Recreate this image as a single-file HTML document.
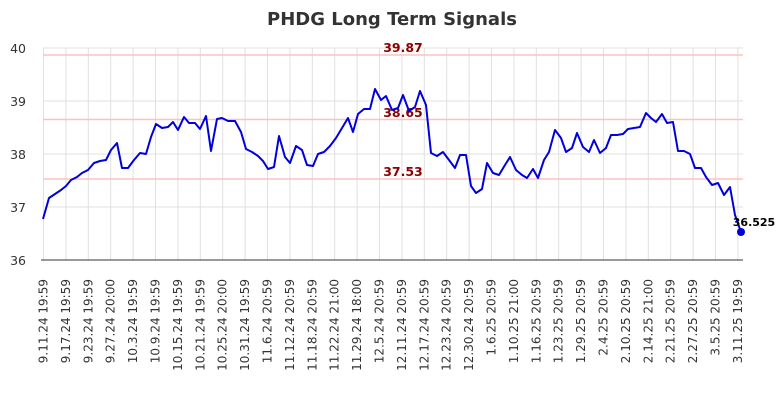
<!DOCTYPE html>
<html><head><meta charset="utf-8"><style>
body{margin:0;background:#fff;}
svg{display:block;font-family:"DejaVu Sans","Liberation Sans",sans-serif;}
</style></head><body>
<svg width="784" height="400" viewBox="0 0 784 400">
<text x="392" y="25" text-anchor="middle" font-size="18" font-weight="bold" fill="#333">PHDG Long Term Signals</text>
<g stroke="#e0e0e0" stroke-width="1">
<line x1="43" y1="48" x2="743" y2="48"/><line x1="43" y1="101" x2="743" y2="101"/><line x1="43" y1="154" x2="743" y2="154"/><line x1="43" y1="207" x2="743" y2="207"/>
<line x1="43.5" y1="48" x2="43.5" y2="260"/><line x1="65.9" y1="48" x2="65.9" y2="260"/><line x1="88.3" y1="48" x2="88.3" y2="260"/><line x1="110.7" y1="48" x2="110.7" y2="260"/><line x1="133.1" y1="48" x2="133.1" y2="260"/><line x1="155.5" y1="48" x2="155.5" y2="260"/><line x1="177.9" y1="48" x2="177.9" y2="260"/><line x1="200.3" y1="48" x2="200.3" y2="260"/><line x1="222.7" y1="48" x2="222.7" y2="260"/><line x1="245.1" y1="48" x2="245.1" y2="260"/><line x1="267.5" y1="48" x2="267.5" y2="260"/><line x1="289.9" y1="48" x2="289.9" y2="260"/><line x1="312.3" y1="48" x2="312.3" y2="260"/><line x1="334.7" y1="48" x2="334.7" y2="260"/><line x1="357.1" y1="48" x2="357.1" y2="260"/><line x1="379.5" y1="48" x2="379.5" y2="260"/><line x1="401.9" y1="48" x2="401.9" y2="260"/><line x1="424.3" y1="48" x2="424.3" y2="260"/><line x1="446.7" y1="48" x2="446.7" y2="260"/><line x1="469.1" y1="48" x2="469.1" y2="260"/><line x1="491.5" y1="48" x2="491.5" y2="260"/><line x1="513.9" y1="48" x2="513.9" y2="260"/><line x1="536.3" y1="48" x2="536.3" y2="260"/><line x1="558.7" y1="48" x2="558.7" y2="260"/><line x1="581.1" y1="48" x2="581.1" y2="260"/><line x1="603.5" y1="48" x2="603.5" y2="260"/><line x1="625.9" y1="48" x2="625.9" y2="260"/><line x1="648.3" y1="48" x2="648.3" y2="260"/><line x1="670.7" y1="48" x2="670.7" y2="260"/><line x1="693.1" y1="48" x2="693.1" y2="260"/><line x1="715.5" y1="48" x2="715.5" y2="260"/><line x1="737.9" y1="48" x2="737.9" y2="260"/>
</g>
<g stroke="#ffc0c0" stroke-width="1.5">
<line x1="43" y1="55" x2="743" y2="55"/><line x1="43" y1="119.5" x2="743" y2="119.5"/><line x1="43" y1="179" x2="743" y2="179"/>
</g>
<line x1="41" y1="260" x2="743" y2="260" stroke="#333" stroke-width="1"/>
<g font-size="12.5" fill="#333" text-anchor="end">
<text x="26" y="53">40</text><text x="26" y="106">39</text><text x="26" y="159">38</text><text x="26" y="212">37</text><text x="26" y="265">36</text>
</g>
<g font-size="12.5" font-weight="bold" fill="#8b0000" text-anchor="middle">
<text x="403" y="52">39.87</text><text x="403" y="117">38.65</text><text x="403" y="176">37.53</text>
</g>
<polyline fill="none" stroke="#0000dd" stroke-width="2" stroke-linejoin="round" points="43,219 49,198 55,194 61,190 66,186 71,180 77,177 82,173 88,170 94,163 100,161 106,160 111,150 117,143 122,168 128,168 134,160 140,153 146,154 151,137 156,124 162,128 168,127 173,122 178,130 184,117 189,123 195,123 200,129 206,116 211,151 217,119 222,118 228,121 235,121 241,132 246,149 252,152 258,156 263,161 268,169 274,167 279,136 285,157 290,163 296,146 302,150 307,165 313,166 318,154 324,152 330,146 336,138 342,128 348,118 353,132 358,114 364,109 370,109 375,89 381,100 386,96 392,110 398,108 403,95 409,111 415,107 420,91 426,105 431,153 437,156 443,152 449,160 455,168 460,155 466,155 471,186 476,193 482,189 487,163 493,173 499,175 505,165 510,157 516,170 522,175 527,178 533,169 538,178 544,160 549,152 555,130 561,138 566,152 572,148 577,133 583,147 589,152 594,140 600,153 606,148 611,135 617,135 623,134 628,129 634,128 640,127 646,113 651,118 656,122 662,114 667,123 673,122 678,151 684,151 690,154 695,168 701,168 706,177 712,185 718,183 724,195 730,187 735,215 741,232"/>
<circle cx="741" cy="232" r="4" fill="#0000dd"/>
<text x="754" y="226" text-anchor="middle" font-size="11" font-weight="bold" fill="#000">36.525</text>
<g font-size="12" fill="#333" text-anchor="end">
<text transform="translate(47.5,279) rotate(-90)">9.11.24 19:59</text>
<text transform="translate(69.9,279) rotate(-90)">9.17.24 19:59</text>
<text transform="translate(92.3,279) rotate(-90)">9.23.24 19:59</text>
<text transform="translate(114.7,279) rotate(-90)">9.27.24 20:00</text>
<text transform="translate(137.1,279) rotate(-90)">10.3.24 19:59</text>
<text transform="translate(159.5,279) rotate(-90)">10.9.24 19:59</text>
<text transform="translate(181.9,279) rotate(-90)">10.15.24 19:59</text>
<text transform="translate(204.3,279) rotate(-90)">10.21.24 19:59</text>
<text transform="translate(226.7,279) rotate(-90)">10.25.24 20:00</text>
<text transform="translate(249.1,279) rotate(-90)">10.31.24 19:59</text>
<text transform="translate(271.5,279) rotate(-90)">11.6.24 20:59</text>
<text transform="translate(293.9,279) rotate(-90)">11.12.24 20:59</text>
<text transform="translate(316.3,279) rotate(-90)">11.18.24 20:59</text>
<text transform="translate(338.7,279) rotate(-90)">11.22.24 21:00</text>
<text transform="translate(361.1,279) rotate(-90)">11.29.24 18:00</text>
<text transform="translate(383.5,279) rotate(-90)">12.5.24 20:59</text>
<text transform="translate(405.9,279) rotate(-90)">12.11.24 20:59</text>
<text transform="translate(428.3,279) rotate(-90)">12.17.24 20:59</text>
<text transform="translate(450.7,279) rotate(-90)">12.23.24 20:59</text>
<text transform="translate(473.1,279) rotate(-90)">12.30.24 20:59</text>
<text transform="translate(495.5,279) rotate(-90)">1.6.25 20:59</text>
<text transform="translate(517.9,279) rotate(-90)">1.10.25 21:00</text>
<text transform="translate(540.3,279) rotate(-90)">1.16.25 20:59</text>
<text transform="translate(562.7,279) rotate(-90)">1.23.25 20:59</text>
<text transform="translate(585.1,279) rotate(-90)">1.29.25 20:59</text>
<text transform="translate(607.5,279) rotate(-90)">2.4.25 20:59</text>
<text transform="translate(629.9,279) rotate(-90)">2.10.25 20:59</text>
<text transform="translate(652.3,279) rotate(-90)">2.14.25 21:00</text>
<text transform="translate(674.7,279) rotate(-90)">2.21.25 20:59</text>
<text transform="translate(697.1,279) rotate(-90)">2.27.25 20:59</text>
<text transform="translate(719.5,279) rotate(-90)">3.5.25 20:59</text>
<text transform="translate(741.9,279) rotate(-90)">3.11.25 19:59</text>
</g>
</svg>
</body></html>
